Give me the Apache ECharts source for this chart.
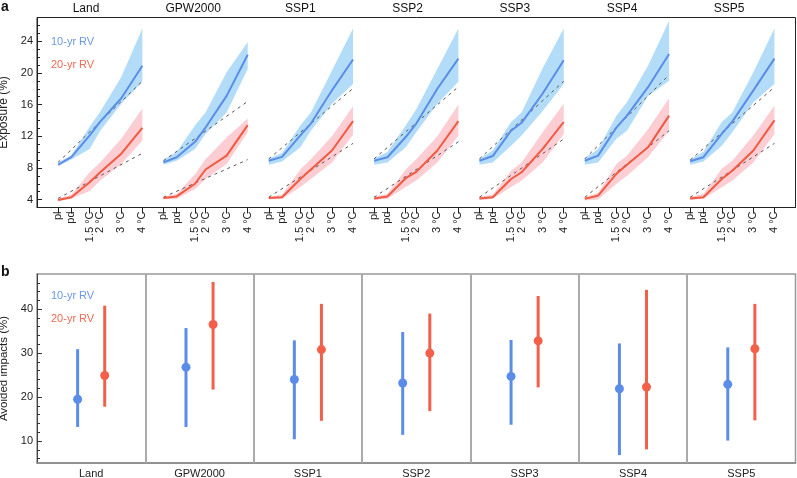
<!DOCTYPE html>
<html><head><meta charset="utf-8">
<script src="https://cdn.jsdelivr.net/npm/echarts@6/dist/echarts.min.js"></script>
<style>html,body{margin:0;padding:0;background:#fff}#c{width:797px;height:478px}</style>
</head><body><div id="c"></div>
<script>
// ---------- DATA ----------
const regions = ['Land', 'GPW2000', 'SSP1', 'SSP2', 'SSP3', 'SSP4', 'SSP5'];
const warmingLabels = ['pl', 'pd', '1.5 °C', '2 °C', '3 °C', '4 °C'];
const warmingLevels = [0, 0.63, 1.5, 2, 3, 4];
const exposureTicks = [4, 8, 12, 16, 20, 24];
const avoidedTicks = [10, 20, 30, 40];

// panel a: exposure (%) for 10-yr RV, per region, at each warming level
const rv10Mid = [
  [8.4, 9.35, 12.1, 13.85, 16.8, 20.9],
  [8.7, 9.35, 11.3, 13.1, 17.1, 22.3],
  [8.9, 9.4, 12.1, 13.6, 17.8, 21.7],
  [8.9, 9.35, 11.9, 13.6, 18.0, 21.8],
  [8.9, 9.5, 12.7, 13.7, 17.4, 21.6],
  [8.9, 9.55, 13.1, 14.6, 18.2, 22.4],
  [8.85, 9.35, 12.3, 13.85, 17.8, 21.8]
];
const rv10Lo = [
  [8.2, 9.05, 10.4, 12.7, 16.1, 18.9],
  [8.4, 8.9, 10.4, 12.3, 15.0, 20.5],
  [8.4, 8.8, 10.6, 12.7, 16.1, 18.6],
  [8.4, 8.7, 10.6, 12.5, 16.1, 18.9],
  [8.4, 8.7, 10.8, 12.1, 15.2, 18.6],
  [8.4, 8.7, 11.7, 12.7, 17.1, 19.0],
  [8.4, 8.8, 10.8, 12.5, 16.3, 18.6]
];
const rv10Hi = [
  [8.7, 9.6, 13.2, 15.1, 19.5, 25.6],
  [9.05, 10.0, 13.35, 15.0, 20.1, 23.9],
  [9.2, 9.9, 13.35, 15.0, 20.3, 25.6],
  [9.2, 10.0, 13.35, 15.4, 20.5, 25.6],
  [9.2, 10.2, 13.8, 15.0, 20.6, 25.6],
  [9.2, 10.4, 14.6, 16.3, 20.9, 26.6],
  [9.1, 10.05, 13.8, 15.0, 20.1, 25.6]
];
// panel a: exposure (%) for 20-yr RV
const rv20Mid = [
  [3.95, 4.3, 6.2, 7.45, 9.8, 13.05],
  [4.2, 4.4, 6.0, 7.8, 9.55, 13.4],
  [4.2, 4.3, 6.6, 7.8, 10.2, 13.9],
  [4.15, 4.4, 6.7, 7.5, 10.2, 13.9],
  [4.15, 4.3, 6.6, 7.45, 10.4, 13.8],
  [4.1, 4.5, 7.25, 8.4, 10.6, 14.6],
  [4.15, 4.3, 6.6, 7.65, 10.2, 14.0]
];
const rv20Lo = [
  [3.8, 4.1, 5.1, 6.4, 8.5, 11.45],
  [4.0, 4.1, 5.35, 6.6, 8.5, 12.5],
  [4.0, 4.1, 5.6, 6.6, 8.7, 12.2],
  [3.95, 4.1, 5.6, 6.4, 8.7, 12.1],
  [3.95, 4.1, 5.6, 6.4, 8.7, 12.3],
  [3.9, 4.0, 6.0, 7.0, 9.35, 12.7],
  [3.95, 4.1, 5.55, 6.4, 8.7, 12.3]
];
const rv20Hi = [
  [4.15, 4.6, 7.45, 8.7, 11.7, 15.5],
  [4.4, 4.7, 7.2, 9.1, 11.85, 14.25],
  [4.4, 4.6, 7.8, 9.1, 12.0, 15.8],
  [4.4, 4.7, 7.8, 9.1, 12.0, 16.0],
  [4.4, 4.6, 7.65, 8.7, 12.5, 16.1],
  [4.3, 4.85, 8.5, 9.55, 12.9, 16.8],
  [4.4, 4.7, 7.9, 8.9, 12.1, 15.9]
];
// dashed reference lines: value at pl and at 4 °C
const rv10Ref = [[8.7, 18.95], [8.9, 16.4], [9.15, 18.05], [9.15, 18.25], [9.15, 18.95], [9.15, 19.75], [9.0, 18.2]];
const rv20Ref = [[4.15, 9.85], [4.3, 9.05], [4.3, 11.1], [4.3, 11.3], [4.3, 11.65], [4.3, 12.7], [4.3, 11.1]];

// panel b: avoided impacts (%)
const avoid10Mid = [19.5, 26.8, 24.0, 23.2, 24.7, 21.9, 22.9];
const avoid10Lo  = [13.2, 13.2, 10.4, 11.4, 13.7, 6.8, 10.1];
const avoid10Hi  = [30.9, 35.7, 32.9, 34.8, 33.0, 32.2, 31.3];
const avoid20Mid = [24.9, 36.5, 30.8, 30.0, 32.8, 22.3, 31.0];
const avoid20Lo  = [17.8, 21.7, 14.6, 16.8, 22.2, 8.1, 14.7];
const avoid20Hi  = [40.8, 46.2, 41.2, 39.0, 43.0, 44.4, 41.2];

// ---------- BUILD ----------
const SPAN = 5;               // x-units occupied by one sub-panel in panel a
const FONT = "'Liberation Sans', Arial, Helvetica, sans-serif";
const BLUE = '#5b8de8', BLUE_BAND = '#b2dcf8', RED = '#f05a40', RED_BAND = '#fccdd3';

const tickVals = [], tickText = {};
regions.forEach((r, k) => warmingLevels.forEach((lv, i) => {
  const v = +(k * SPAN + lv).toFixed(2);
  tickVals.push(v); tickText[v.toFixed(2)] = warmingLabels[i];
}));

function lineData(mid) {
  const out = [];
  mid.forEach((row, k) => {
    row.forEach((v, i) => out.push([k * SPAN + warmingLevels[i], v]));
    out.push([k * SPAN + 4.5, '-']);
  });
  return out;
}
function refData(ref) {
  const out = [];
  ref.forEach((r, k) => {
    out.push([k * SPAN + warmingLevels[0], r[0]]);
    out.push([k * SPAN + warmingLevels[5], r[1]]);
    out.push([k * SPAN + 4.5, '-']);
  });
  return out;
}
function bandSeries(lo, hi, color) {
  return {
    type: 'custom', xAxisIndex: 0, yAxisIndex: 0, z: 1,
    data: regions.map((r, k) => [k * SPAN + 2, hi[k][3]]),
    renderItem: function (params, api) {
      const k = params.dataIndex;
      const pts = [];
      warmingLevels.forEach((lv, i) => pts.push(api.coord([k * SPAN + lv, hi[k][i]])));
      for (let i = warmingLevels.length - 1; i >= 0; i--) pts.push(api.coord([k * SPAN + warmingLevels[i], lo[k][i]]));
      return { type: 'polygon', shape: { points: pts }, style: { fill: color } };
    }
  };
}
function errSeries(lo, hi, off, color) {
  return {
    type: 'custom', xAxisIndex: 1, yAxisIndex: 2, z: 3,
    data: regions.map((r, k) => [k + 0.5 + off, lo[k], hi[k]]),
    renderItem: function (params, api) {
      const a = api.coord([api.value(0), api.value(1)]);
      const b = api.coord([api.value(0), api.value(2)]);
      return { type: 'line', shape: { x1: a[0], y1: a[1], x2: b[0], y2: b[1] },
               style: { stroke: color, lineWidth: 3 } };
    }
  };
}

const minorA = []; for (let v = 4; v <= 26; v++) minorA.push(v);
const minorB = []; for (let v = 6; v <= 46; v += 2) minorB.push(v);
const catPos = regions.map((r, k) => k + 0.5);

const chart = echarts.init(document.getElementById('c'), null, { renderer: 'canvas' });
const axisTxt = { fontFamily: FONT, fontSize: 11, color: '#222' };

const option = {
  animation: false,
  backgroundColor: '#fff',
  grid: [
    { left: 37, top: 17.5, width: 758.5, height: 190, show: true, borderColor: '#222', borderWidth: 1,
      containLabel: false, outerBoundsMode: 'none' },
    { left: 37, top: 274, width: 758.5, height: 189, show: true, borderColor: '#999', borderWidth: 1.5,
      containLabel: false, outerBoundsMode: 'none' }
  ],
  xAxis: [
    { gridIndex: 0, type: 'value', min: -1, max: 7 * SPAN,
      axisLine: { onZero: false, lineStyle: { color: '#222', width: 1 } },
      axisTick: { customValues: tickVals, length: 6, lineStyle: { color: '#222' } },
      axisLabel: Object.assign({ customValues: tickVals, rotate: 90, margin: 4,
        formatter: v => tickText[(+v).toFixed(2)] || '' }, axisTxt),
      splitLine: { show: false } },
    { gridIndex: 1, type: 'value', min: 0, max: 7,
      axisLine: { onZero: false, lineStyle: { color: '#888', width: 1.5 } },
      axisTick: { show: false },
      axisLabel: Object.assign({ customValues: catPos, margin: 5,
        formatter: v => regions[Math.floor(v)] }, axisTxt),
      splitLine: { show: false } }
  ],
  yAxis: [
    { gridIndex: 0, type: 'value', min: 3, max: 27, position: 'left',
      axisLine: { show: true, onZero: false, lineStyle: { color: '#222' } },
      axisTick: { inside: true, length: 5, customValues: exposureTicks, lineStyle: { color: '#222' } },
      axisLabel: Object.assign({ customValues: exposureTicks, margin: 4 }, axisTxt),
      splitLine: { show: false },
      name: 'Exposure (%)', nameLocation: 'middle', nameGap: 21, nameRotate: 90,
      nameTextStyle: { fontFamily: FONT, fontSize: 12, color: '#222' } },
    { gridIndex: 0, type: 'value', min: 3, max: 27, position: 'left',
      axisLine: { show: false, onZero: false },
      axisTick: { inside: true, length: 3, customValues: minorA, lineStyle: { color: '#222' } },
      axisLabel: { show: false }, splitLine: { show: false } },
    { gridIndex: 1, type: 'value', min: 5, max: 48, position: 'left',
      axisLine: { show: true, onZero: false, lineStyle: { color: '#444' } },
      axisTick: { inside: true, length: 5, customValues: avoidedTicks, lineStyle: { color: '#333' } },
      axisLabel: Object.assign({ customValues: avoidedTicks, margin: 4 }, axisTxt),
      splitLine: { show: false },
      name: 'Avoided impacts (%)', nameLocation: 'middle', nameGap: 21, nameRotate: 90,
      nameTextStyle: { fontFamily: FONT, fontSize: 11.5, color: '#222' } },
    { gridIndex: 1, type: 'value', min: 5, max: 48, position: 'left',
      axisLine: { show: false, onZero: false },
      axisTick: { inside: true, length: 3, customValues: minorB, lineStyle: { color: '#333' } },
      axisLabel: { show: false }, splitLine: { show: false } }
  ],
  series: [
    bandSeries(rv10Lo, rv10Hi, BLUE_BAND),
    bandSeries(rv20Lo, rv20Hi, RED_BAND),
    { type: 'line', xAxisIndex: 0, yAxisIndex: 0, z: 2, data: refData(rv10Ref), symbol: 'none',
      lineStyle: { color: '#555', width: 1, type: [3, 4] } },
    { type: 'line', xAxisIndex: 0, yAxisIndex: 0, z: 2, data: refData(rv20Ref), symbol: 'none',
      lineStyle: { color: '#555', width: 1, type: [3, 4] } },
    { type: 'line', xAxisIndex: 0, yAxisIndex: 0, z: 3, data: lineData(rv10Mid), symbol: 'none',
      lineStyle: { color: BLUE, width: 2 } },
    { type: 'line', xAxisIndex: 0, yAxisIndex: 0, z: 3, data: lineData(rv20Mid), symbol: 'none',
      lineStyle: { color: RED, width: 2 } },
    Object.assign(errSeries(avoid10Lo, avoid10Hi, -0.125, BLUE), {
      markLine: { silent: true, symbol: ['none', 'none'], label: { show: false },
        lineStyle: { color: '#aaa', width: 2, type: 'solid' },
        data: [1, 2, 3, 4, 5, 6].map(v => ({ xAxis: v })) } }),
    errSeries(avoid20Lo, avoid20Hi, 0.125, '#f2604a'),
    { type: 'scatter', xAxisIndex: 1, yAxisIndex: 2, z: 4, symbolSize: 9,
      data: regions.map((r, k) => [k + 0.375, avoid10Mid[k]]), itemStyle: { color: BLUE, opacity: 1 } },
    { type: 'scatter', xAxisIndex: 1, yAxisIndex: 2, z: 4, symbolSize: 9,
      data: regions.map((r, k) => [k + 0.625, avoid20Mid[k]]), itemStyle: { color: '#f2604a', opacity: 1 } }
  ],
  graphic: [
    { type: 'text', x: 1, y: 0, style: { text: 'a', font: 'bold 14px ' + FONT, fill: '#111' } },
    { type: 'text', x: 1, y: 265, style: { text: 'b', font: 'bold 14px ' + FONT, fill: '#111' } },
    { type: 'text', x: 51, y: 41.5, style: { text: '10-yr RV', font: '11px ' + FONT, fill: '#6a98e4', verticalAlign: 'middle' } },
    { type: 'text', x: 51, y: 65, style: { text: '20-yr RV', font: '11px ' + FONT, fill: '#f06a55', verticalAlign: 'middle' } },
    { type: 'text', x: 51, y: 295.5, style: { text: '10-yr RV', font: '11px ' + FONT, fill: '#6a98e4', verticalAlign: 'middle' } },
    { type: 'text', x: 51, y: 318.5, style: { text: '20-yr RV', font: '11px ' + FONT, fill: '#f06a55', verticalAlign: 'middle' } }
  ].concat(regions.map((r, k) => ({
    type: 'text', x: 86 + 107.2 * k, y: 8.5,
    style: { text: r, font: '12px ' + FONT, fill: '#111', align: 'center', verticalAlign: 'middle' }
  })))
};
chart.setOption(option);
</script>
</body></html>
